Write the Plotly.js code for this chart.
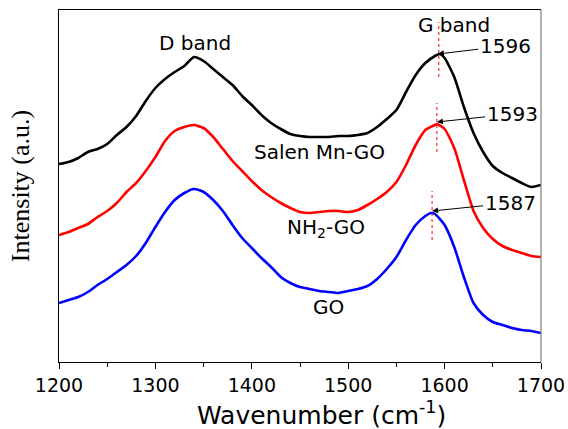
<!DOCTYPE html>
<html>
<head>
<meta charset="utf-8">
<script src="https://cdn.plot.ly/plotly-3.0.1.min.js"></script>
<style>html,body{margin:0;padding:0;background:#fff;}#chart{width:568px;height:429px;}</style>
</head>
<body>
<div id="chart"></div>
<script>
// Wavenumber grids (cm^-1)
const wnSalen = [1200,1210,1220,1230,1240,1250,1260,1270,1280,1290,1300,1310,1320,1330,1340,1350,1360,1370,1380,1390,1400,1410,1420,1430,1440,1450,1460,1470,1480,1490,1500,1510,1520,1530,1540,1550,1560,1570,1580,1590,1595,1600,1610,1620,1630,1640,1650,1660,1670,1680,1690,1700];
const intSalen = [198,200,204,210,213,218,227,235,246,261,274,283,290,296,305,301,293,285,277,266,257,247,239,233,228,226,225,225,225,226,226,227,229,235,243,252,270,287,299,306,308,304,285,255,229,210,196,189,184,179,175,177];

const wnNH2 = [1200,1210,1220,1230,1240,1250,1260,1270,1280,1290,1300,1310,1320,1330,1340,1350,1360,1370,1380,1390,1400,1410,1420,1430,1440,1450,1460,1470,1480,1490,1500,1510,1520,1530,1540,1550,1560,1570,1580,1590,1592,1600,1610,1620,1630,1640,1650,1660,1670,1680,1690,1700];
const intNH2 = [127,130,134,138,145,151,159,170,179,191,205,221,231,235,237,234,225,213,201,191,181,172,165,159,154,150,149,150,151,151,150,152,157,163,170,180,197,217,232,237,238,233,214,182,151,134,123,116,112,109,106,105];

const wnGO = [1200,1210,1220,1230,1240,1250,1260,1270,1280,1290,1300,1310,1320,1330,1340,1350,1360,1370,1380,1390,1400,1410,1420,1430,1440,1450,1460,1470,1480,1490,1500,1510,1520,1530,1540,1550,1560,1570,1580,1586,1590,1600,1610,1620,1630,1640,1650,1660,1670,1680,1690,1700];
const intGO = [59,62,65,70,77,83,90,97,106,119,135,150,162,169,173,170,162,151,137,124,114,104,95,85,79,75,73,71,70,69,71,73,76,83,93,105,122,137,146,149,148,137,115,85,59,47,40,37,34,32,31,29];

const seriesNames = ["Salen Mn-GO", "NH<sub>2</sub>-GO", "GO"];
const seriesColors = ["#000000", "#ff0000", "#0000ff"];
const peakLabels = ["1596", "1593", "1587"];
const peakPos = [1594, 1592, 1587];
const xTicks = [1200,1300,1400,1500,1600,1700];

const font = "DejaVu Sans, Arial, sans-serif";

const traces = [
  {x: wnSalen, y: intSalen},
  {x: wnNH2, y: intNH2},
  {x: wnGO, y: intGO}
].map((d, i) => ({
  x: d.x, y: d.y, type: "scatter", mode: "lines",
  name: seriesNames[i],
  line: {color: seriesColors[i], width: 2.6, shape: "spline", smoothing: 0.6},
  hoverinfo: "x+y"
}));

// peak marker dashed lines (data-space y ranges)
const dashY = [[285, 340], [210, 259], [122, 171]];
const shapes = peakPos.map((p, i) => ({
  type: "line", xref: "x", yref: "y", x0: p, x1: p, y0: dashY[i][0], y1: dashY[i][1],
  line: {color: "#ff0000", width: 1, dash: "dot"}
}));
shapes.push({type: "line", xref: "paper", yref: "paper", x0: 1, x1: 1, y0: 0, y1: 1,
  line: {color: "#7f7f7f", width: 1.2}});

const arrowHead = [[1593, 308], [1592, 240], [1587, 151]];
const labelPos = [[1663, 316], [1670, 248], [1668, 159]];

const annotations = [];
peakLabels.forEach((t, i) => {
  annotations.push({x: arrowHead[i][0], y: arrowHead[i][1], ax: labelPos[i][0], ay: labelPos[i][1],
    axref: "x", ayref: "y", xref: "x", yref: "y", text: t, showarrow: true,
    arrowhead: 2, arrowsize: 1.2, arrowwidth: 1, arrowcolor: "#000",
    font: {family: font, size: 20, color: "#000"}});
});
const nameLabelPos = [[1470, 210], [1477, 134], [1480, 55]];
seriesNames.forEach((n, i) => {
  annotations.push({x: nameLabelPos[i][0], y: nameLabelPos[i][1], xref: "x", yref: "y", text: n,
    showarrow: false, font: {family: font, size: 20, color: "#000"}});
});
annotations.push({x: 1341, y: 319, xref: "x", yref: "y", text: "D band", showarrow: false,
  font: {family: font, size: 20, color: "#000"}});
annotations.push({x: 1610, y: 337, xref: "x", yref: "y", text: "G band", showarrow: false,
  font: {family: font, size: 20, color: "#000"}});
// x-axis title (placed as in the reference, slightly right of centre)
annotations.push({x: 0.544, y: -0.146, xref: "paper", yref: "paper", xanchor: "center", yanchor: "middle",
  text: "Wavenumber (cm<sup>-1</sup>)", showarrow: false,
  font: {family: font, size: 25, color: "#000"}});

const layout = {
  width: 568, height: 429,
  margin: {l: 59, r: 27, t: 10, b: 67},
  paper_bgcolor: "#fff", plot_bgcolor: "#fff",
  showlegend: false,
  xaxis: {
    range: [1200, 1700], tickvals: xTicks, ticktext: xTicks.map(String),
    ticks: "outside", ticklen: 6, tickwidth: 1, tickcolor: "#000",
    minor: {ticks: "outside", ticklen: 4, tickwidth: 1, tickcolor: "#000", dtick: 50, tick0: 1200, showgrid: false},
    showline: true, linecolor: "#000", linewidth: 1.2, mirror: true,
    showgrid: false, zeroline: false,
    tickfont: {family: font, size: 19, color: "#000"}
  },
  yaxis: {
    range: [0, 352], showticklabels: false, ticks: "",
    showline: true, linecolor: "#000", linewidth: 1.2, mirror: false,
    showgrid: false, zeroline: false,
    title: {text: "Intensity (a.u.)", font: {family: "Liberation Serif, Times New Roman, serif", size: 26, color: "#000"}, standoff: 20}
  },
  shapes: shapes,
  annotations: annotations
};

Plotly.newPlot("chart", traces, layout, {displayModeBar: false, staticPlot: true});
</script>
</body>
</html>
